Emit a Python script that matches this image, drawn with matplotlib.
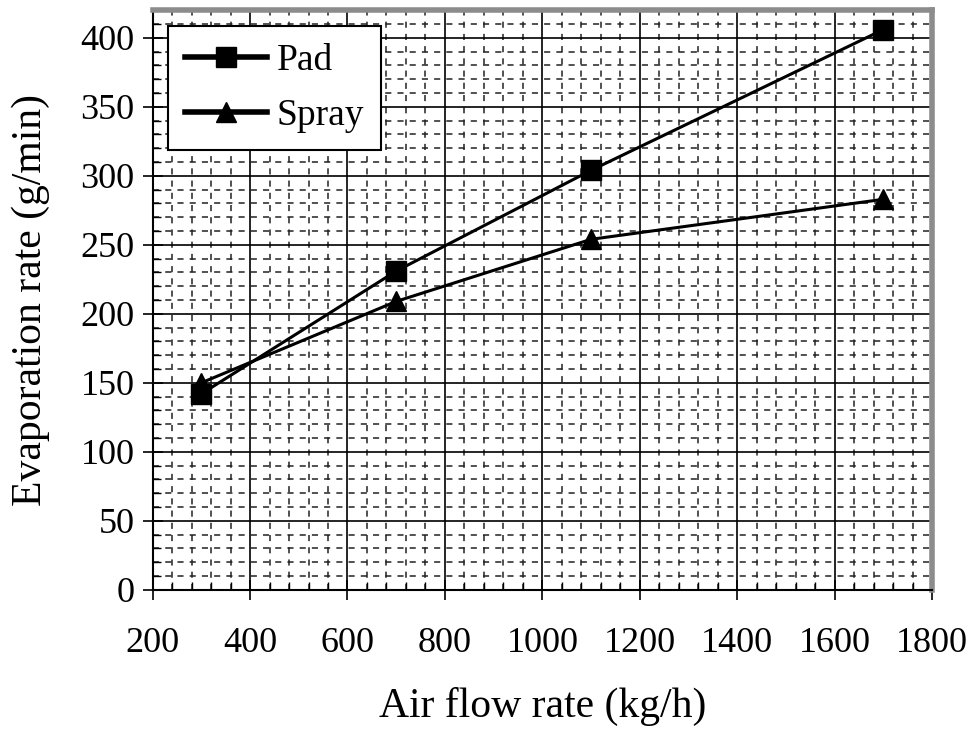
import matplotlib
matplotlib.use("Agg")
import matplotlib.pyplot as plt
from matplotlib.ticker import MultipleLocator

airflow = [300, 700, 1100, 1700]
pad = [142, 231, 304, 406]
spray = [150, 209, 254, 283]

plt.rcParams['font.family'] = ['Liberation Serif', 'DejaVu Serif']

fig = plt.figure(figsize=(9.72, 7.3), dpi=100)
ax = fig.add_axes([0.157, 0.192, 0.802, 0.794])

ax.set_xlim(200, 1800)
ax.set_ylim(0, 420)
ax.xaxis.set_major_locator(MultipleLocator(200))
ax.xaxis.set_minor_locator(MultipleLocator(40))
ax.yaxis.set_major_locator(MultipleLocator(50))
ax.yaxis.set_minor_locator(MultipleLocator(10))

ax.grid(which='major', color='black', linewidth=1.2, zorder=0)
ax.grid(which='minor', color='#222222', linewidth=1.1, linestyle=(0, (4, 4)), zorder=0)
ax.set_axisbelow(True)

ax.plot(airflow, pad, color='black', linewidth=2.2, marker='s', markersize=15,
        label='Pad', zorder=3)
ax.plot(airflow, spray, color='black', linewidth=2.2, marker='^', markersize=15,
        label='Spray', zorder=3)

for s in ['top', 'right']:
    ax.spines[s].set_color('#8c8c8c')
    ax.spines[s].set_linewidth(4)
for s in ['left', 'bottom']:
    ax.spines[s].set_color('black')
    ax.spines[s].set_linewidth(1.5)

ax.tick_params(which='major', direction='inout', length=14, width=1.2,
               labelsize=26, colors='black')
ax.tick_params(axis='x', which='major', pad=20)
ax.tick_params(axis='y', which='major', pad=6)
ax.tick_params(which='minor', direction='in', length=6, width=1)

ax.set_xlabel('Air flow rate (kg/h)', fontsize=30, labelpad=19)
ax.set_ylabel('Evaporation rate (g/min)', fontsize=30, labelpad=22)

leg = ax.legend(loc='upper left', bbox_to_anchor=(0.01, 0.985), fontsize=27,
                frameon=True, fancybox=False, edgecolor='black', framealpha=1,
                handlelength=2.2, borderpad=0.45, labelspacing=0.55,
                handletextpad=0.25, borderaxespad=0.2)
leg.get_frame().set_linewidth(1.5)
for line in leg.get_lines():
    line.set_linewidth(4)

fig.savefig('out.png', dpi=100)
